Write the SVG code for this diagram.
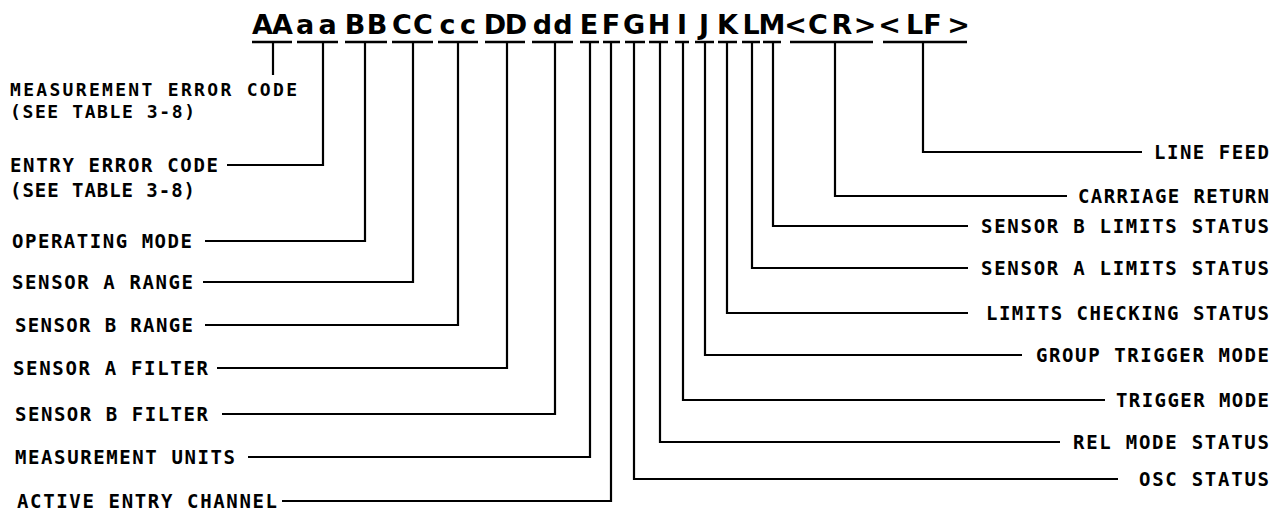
<svg xmlns="http://www.w3.org/2000/svg" width="1278" height="513" viewBox="0 0 1278 513">
<style>
.lbl{font-family:"DejaVu Sans Mono","Liberation Mono",monospace;font-weight:bold;font-size:19px;fill:#000}
.sm{font-size:18px}
.r{text-anchor:end}
.hdr{font-family:"DejaVu Sans","Liberation Sans",sans-serif;font-weight:bold;font-size:27px;fill:#000;text-anchor:middle}
.ul{stroke:#000;stroke-width:2.6;fill:none}
.c{stroke:#000;stroke-width:2.2;fill:none;stroke-linejoin:miter}
</style>
<rect width="1278" height="513" fill="#fff"/>
<g id="header">
<text class="hdr" y="34" x="262.5 282.5 305 327.5 355 377 402 423 447.5 468 495 516 542.5 563 589 611 634 659 682 704 727.5 751 772 795.5 818 842 865 889.5 914.5 932.5 958.5">AAaaBBCCccDDddEFGHIJKLM&lt;CR&gt;&lt;LF&gt;</text>
<path class="ul" d="M252 42H292M297 42H338M345 42H387M392 42H433M438 42H478M485 42H525M532 42H573M580 42H599M603 42H620M625 42H645M649 42H668M675 42H689M695 42H714M718 42H737M742 42H760M763 42H781M790 42H873M883 42H967"/>
</g>
<g id="connectors">
<path class="c" d="M273 42V75"/>
<path class="c" d="M323 42V165H227"/>
<path class="c" d="M365 42V241H205"/>
<path class="c" d="M413 42V282H203"/>
<path class="c" d="M458 42V325H205"/>
<path class="c" d="M507 42V368H217"/>
<path class="c" d="M555 42V414H222"/>
<path class="c" d="M590 42V457H248"/>
<path class="c" d="M611 42V501H282"/>
<path class="c" d="M634 42V479H1118"/>
<path class="c" d="M660 42V442H1060"/>
<path class="c" d="M683 42V400H1105"/>
<path class="c" d="M705 42V355H1022"/>
<path class="c" d="M727 42V313H968"/>
<path class="c" d="M752 42V268H968"/>
<path class="c" d="M773 42V226H968"/>
<path class="c" d="M835 42V196H1067"/>
<path class="c" d="M923 42V152H1142"/>
</g>
<g id="measurement-error-code"><text class="lbl sm"><tspan x="10" y="96" textLength="287" lengthAdjust="spacing">MEASUREMENT ERROR CODE</tspan><tspan x="10" y="118" textLength="185" lengthAdjust="spacing">(SEE TABLE 3-8)</tspan></text></g>
<g id="entry-error-code"><text class="lbl"><tspan x="10" y="172" textLength="208" lengthAdjust="spacing">ENTRY ERROR CODE</tspan><tspan x="10" y="197" textLength="185" lengthAdjust="spacing">(SEE TABLE 3-8)</tspan></text></g>
<g id="operating-mode"><text class="lbl" x="12" y="248" textLength="180" lengthAdjust="spacing">OPERATING MODE</text></g>
<g id="sensor-a-range"><text class="lbl" x="12" y="289" textLength="181" lengthAdjust="spacing">SENSOR A RANGE</text></g>
<g id="sensor-b-range"><text class="lbl" x="15" y="332" textLength="178" lengthAdjust="spacing">SENSOR B RANGE</text></g>
<g id="sensor-a-filter"><text class="lbl" x="13" y="375" textLength="195" lengthAdjust="spacing">SENSOR A FILTER</text></g>
<g id="sensor-b-filter"><text class="lbl" x="15" y="421" textLength="193" lengthAdjust="spacing">SENSOR B FILTER</text></g>
<g id="measurement-units"><text class="lbl" x="15" y="464" textLength="220" lengthAdjust="spacing">MEASUREMENT UNITS</text></g>
<g id="active-entry-channel"><text class="lbl" x="17" y="508" textLength="260" lengthAdjust="spacing">ACTIVE ENTRY CHANNEL</text></g>
<g id="line-feed"><text class="lbl r" x="1269" y="159" textLength="115" lengthAdjust="spacing">LINE FEED</text></g>
<g id="carriage-return"><text class="lbl r" x="1269" y="203" textLength="191" lengthAdjust="spacing">CARRIAGE RETURN</text></g>
<g id="sensor-b-limits-status"><text class="lbl r" x="1269" y="233" textLength="288" lengthAdjust="spacing">SENSOR B LIMITS STATUS</text></g>
<g id="sensor-a-limits-status"><text class="lbl r" x="1269" y="275" textLength="288" lengthAdjust="spacing">SENSOR A LIMITS STATUS</text></g>
<g id="limits-checking-status"><text class="lbl r" x="1269" y="320" textLength="283" lengthAdjust="spacing">LIMITS CHECKING STATUS</text></g>
<g id="group-trigger-mode"><text class="lbl r" x="1269" y="362" textLength="233" lengthAdjust="spacing">GROUP TRIGGER MODE</text></g>
<g id="trigger-mode"><text class="lbl r" x="1269" y="407" textLength="153" lengthAdjust="spacing">TRIGGER MODE</text></g>
<g id="rel-mode-status"><text class="lbl r" x="1269" y="449" textLength="196" lengthAdjust="spacing">REL MODE STATUS</text></g>
<g id="osc-status"><text class="lbl r" x="1269" y="486" textLength="130" lengthAdjust="spacing">OSC STATUS</text></g>
</svg>
